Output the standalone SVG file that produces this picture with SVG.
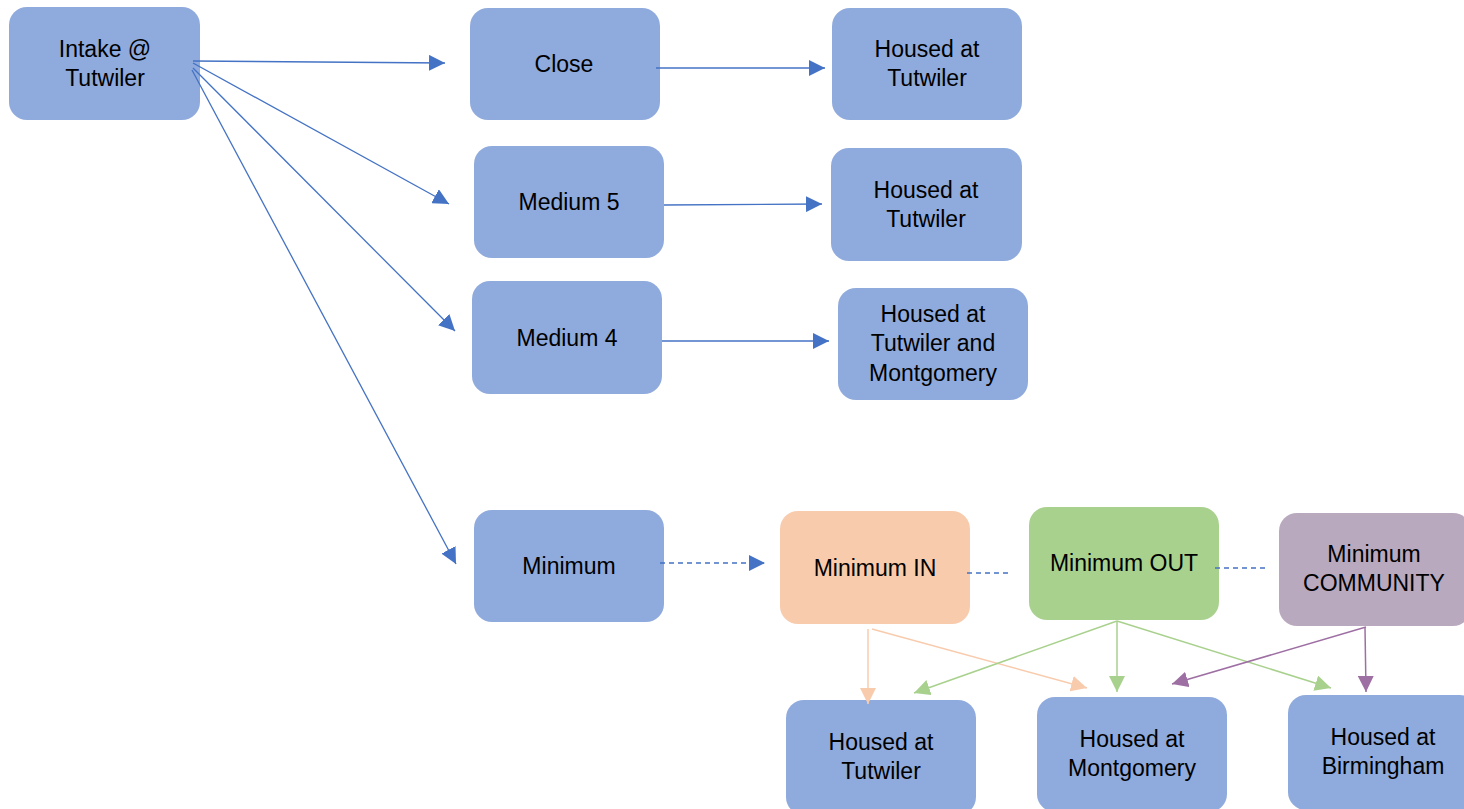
<svg xmlns="http://www.w3.org/2000/svg" width="1464" height="809" viewBox="0 0 1464 809">
<style>
.n{fill:#8FAADC}
.t{font-family:"Liberation Sans",Arial,sans-serif;font-size:23px;fill:#000;text-anchor:middle}
.c{fill:none;stroke-width:1.3}
.b{stroke:#4472C4}
.d{stroke-dasharray:5,4}
.p{stroke:#F8CBAD;stroke-width:1.5}
.g{stroke:#A9D18E;stroke-width:1.5}
.v{stroke:#9E6FA3;stroke-width:1.5}
</style>
<defs>
<marker id="ab" markerUnits="userSpaceOnUse" markerWidth="16" markerHeight="16" refX="16" refY="8" orient="auto"><path d="M0,0 L16,8 L0,16 Z" fill="#4472C4"/></marker>
<marker id="ap" markerUnits="userSpaceOnUse" markerWidth="16" markerHeight="16" refX="16" refY="8" orient="auto"><path d="M0,0 L16,8 L0,16 Z" fill="#F8CBAD"/></marker>
<marker id="ag" markerUnits="userSpaceOnUse" markerWidth="16" markerHeight="16" refX="16" refY="8" orient="auto"><path d="M0,0 L16,8 L0,16 Z" fill="#A9D18E"/></marker>
<marker id="av" markerUnits="userSpaceOnUse" markerWidth="16" markerHeight="16" refX="16" refY="8" orient="auto"><path d="M0,0 L16,8 L0,16 Z" fill="#9E6FA3"/></marker>
</defs>
<g id="intake"><rect class="n" x="9" y="7" width="191" height="113" rx="18"/><text class="t" x="105" y="57">Intake @</text><text class="t" x="105" y="86">Tutwiler</text></g>
<g id="close"><rect class="n" x="470" y="8" width="190" height="112" rx="18"/><text class="t" x="564" y="72">Close</text></g>
<g id="housed1"><rect class="n" x="832" y="8" width="190" height="112" rx="18"/><text class="t" x="927" y="57">Housed at</text><text class="t" x="927" y="86">Tutwiler</text></g>
<g id="medium5"><rect class="n" x="474" y="146" width="190" height="112" rx="18"/><text class="t" x="569" y="210">Medium 5</text></g>
<g id="housed2"><rect class="n" x="831" y="148" width="191" height="113" rx="18"/><text class="t" x="926" y="198">Housed at</text><text class="t" x="926" y="227">Tutwiler</text></g>
<g id="medium4"><rect class="n" x="472" y="281" width="190" height="113" rx="18"/><text class="t" x="567" y="346">Medium 4</text></g>
<g id="housed3"><rect class="n" x="838" y="288" width="190" height="112" rx="18"/><text class="t" x="933" y="322">Housed at</text><text class="t" x="933" y="351">Tutwiler and</text><text class="t" x="933" y="381">Montgomery</text></g>
<g id="minimum"><rect class="n" x="474" y="510" width="190" height="112" rx="18"/><text class="t" x="569" y="574">Minimum</text></g>
<g id="minin"><rect x="780" y="511" width="190" height="113" rx="18" fill="#F8CBAD"/><text class="t" x="875" y="576">Minimum IN</text></g>
<g id="minout"><rect x="1029" y="507" width="190" height="113" rx="18" fill="#A9D18E"/><text class="t" x="1124" y="571">Minimum OUT</text></g>
<g id="mincomm"><rect x="1279" y="513" width="192" height="113" rx="18" fill="#B9A9BE"/><text class="t" x="1374" y="562">Minimum</text><text class="t" x="1374" y="591">COMMUNITY</text></g>
<g id="housedT"><rect class="n" x="786" y="700" width="190" height="115" rx="18"/><text class="t" x="881" y="750">Housed at</text><text class="t" x="881" y="779">Tutwiler</text></g>
<g id="housedM"><rect class="n" x="1037" y="697" width="190" height="115" rx="18"/><text class="t" x="1132" y="747">Housed at</text><text class="t" x="1132" y="776">Montgomery</text></g>
<g id="housedB"><rect class="n" x="1288" y="695" width="190" height="115" rx="18"/><text class="t" x="1383" y="745">Housed at</text><text class="t" x="1383" y="774">Birmingham</text></g>
<g id="connectors">
<line class="c b" x1="193" y1="61" x2="445" y2="63" marker-end="url(#ab)"/>
<line class="c b" x1="193" y1="63" x2="449" y2="204" marker-end="url(#ab)"/>
<line class="c b" x1="193" y1="68" x2="455" y2="331" marker-end="url(#ab)"/>
<line class="c b" x1="192" y1="70" x2="456" y2="564" marker-end="url(#ab)"/>
<line class="c b" x1="656" y1="68" x2="825" y2="68" marker-end="url(#ab)"/>
<line class="c b" x1="664" y1="205" x2="822" y2="204" marker-end="url(#ab)"/>
<line class="c b" x1="662" y1="341" x2="829" y2="341" marker-end="url(#ab)"/>
<line class="c b d" x1="660" y1="563" x2="765" y2="563" marker-end="url(#ab)"/>
<line class="c b d" x1="967" y1="573" x2="1011" y2="573"/>
<line class="c b d" x1="1215" y1="568" x2="1268" y2="568"/>
<line class="c p" x1="868" y1="629" x2="868" y2="704" marker-end="url(#ap)"/>
<line class="c p" x1="872" y1="629" x2="1087" y2="688" marker-end="url(#ap)"/>
<line class="c g" x1="1117" y1="621" x2="914" y2="693" marker-end="url(#ag)"/>
<line class="c g" x1="1117" y1="621" x2="1117" y2="692" marker-end="url(#ag)"/>
<line class="c g" x1="1117" y1="621" x2="1331" y2="688" marker-end="url(#ag)"/>
<line class="c v" x1="1366" y1="627" x2="1172" y2="684" marker-end="url(#av)"/>
<line class="c v" x1="1365" y1="627" x2="1366" y2="692" marker-end="url(#av)"/>
</g>
</svg>
